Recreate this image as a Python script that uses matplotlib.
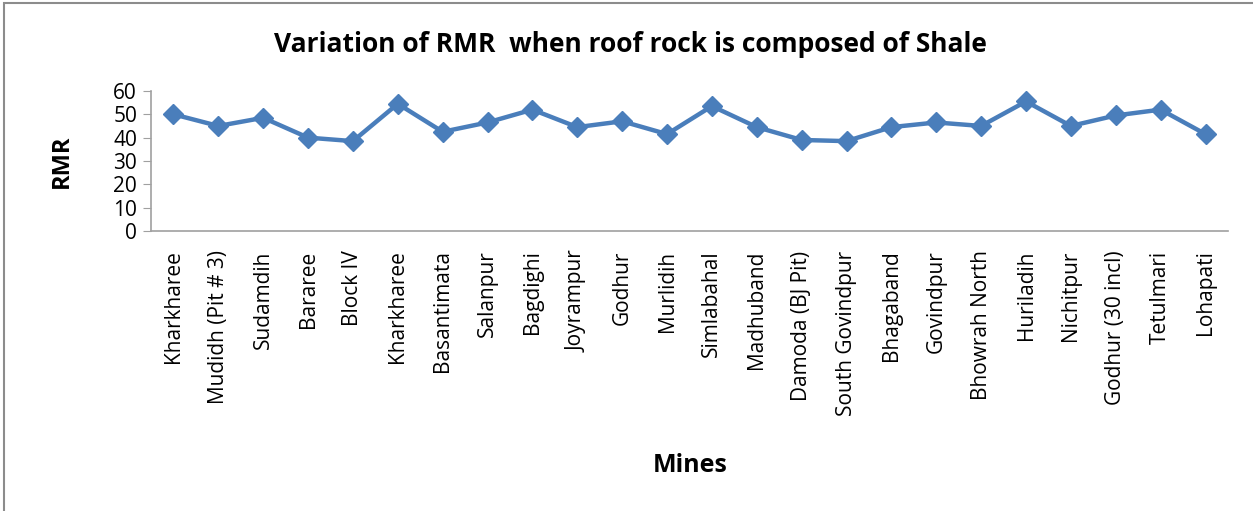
import matplotlib
matplotlib.use("Agg")
import matplotlib.pyplot as plt
from matplotlib.patches import Rectangle

mines = ["Kharkharee", "Mudidh (Pit # 3)", "Sudamdih", "Bararee", "Block IV",
         "Kharkharee", "Basantimata", "Salanpur", "Bagdighi", "Joyrampur",
         "Godhur", "Murlidih", "Simlabahal", "Madhuband", "Damoda (BJ Pit)",
         "South Govindpur", "Bhagaband", "Govindpur", "Bhowrah North",
         "Huriladih", "Nichitpur", "Godhur (30 incl)", "Tetulmari", "Lohapati"]
rmr = [50, 45, 48.5, 40, 38.5, 54.5, 42.5, 46.5, 52, 44.5, 47, 41.5, 53.5,
       44.5, 39, 38.5, 44.5, 46.5, 45, 55.5, 45, 49.5, 52, 41.5]
yticks = [0, 10, 20, 30, 40, 50, 60]

fig = plt.figure(figsize=(12.53, 5.11), dpi=100)
ax = fig.add_axes([0.1205, 0.548, 0.8595, 0.274])

x = range(len(mines))
ax.plot(x, rmr, color="#4A7EBB", lw=3.2, marker="D", markersize=10,
        markeredgecolor="#4A7EBB", markerfacecolor="#4A7EBB")

ax.set_xlim(-0.5, len(mines) - 0.5)
ax.set_ylim(0, 60)
ax.set_yticks(yticks)
ax.set_xticks(list(x))
ax.set_xticklabels(mines, rotation=90, fontsize=15, family="Open Sans")
for lbl in ax.get_yticklabels():
    lbl.set_family("Open Sans")
    lbl.set_fontsize(15)

for side in ["top", "right"]:
    ax.spines[side].set_visible(False)
for side in ["left", "bottom"]:
    ax.spines[side].set_color("#A0A0A0")
    ax.spines[side].set_linewidth(1.2)
ax.tick_params(axis="y", length=6, color="#A0A0A0", pad=4)
ax.tick_params(axis="x", length=0, pad=14)

ax.set_ylabel("RMR", fontsize=17, fontweight="bold", family="Open Sans", labelpad=28)
fig.text(0.5505, 0.09, "Mines", ha="center", va="center", fontsize=18,
         fontweight="bold", family="Open Sans")
fig.text(0.503, 0.913, "Variation of RMR  when roof rock is composed of Shale",
         ha="center", va="center", fontsize=19, fontweight="bold", family="Open Sans")

# chart area frame
fig.patches.append(Rectangle((0.003, -0.1), 1.2, 1.094, transform=fig.transFigure,
                             fill=False, edgecolor="#8C8C8C", lw=1.5))

fig.savefig("out.png", dpi=100)
